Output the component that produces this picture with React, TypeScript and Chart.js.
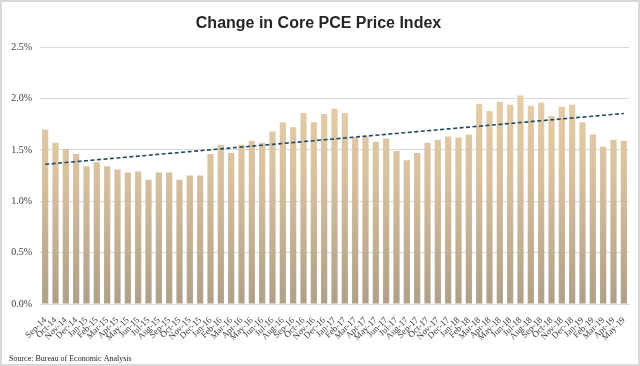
import React, { useEffect, useRef } from "react";
import { Chart, registerables } from "chart.js";

Chart.register(...registerables);

const categories = [
  "Sep-14", "Oct-14", "Nov-14", "Dec-14",
  "Jan-15", "Feb-15", "Mar-15", "Apr-15", "May-15", "Jun-15", "Jul-15", "Aug-15", "Sep-15", "Oct-15", "Nov-15", "Dec-15",
  "Jan-16", "Feb-16", "Mar-16", "Apr-16", "May-16", "Jun-16", "Jul-16", "Aug-16", "Sep-16", "Oct-16", "Nov-16", "Dec-16",
  "Jan-17", "Feb-17", "Mar-17", "Apr-17", "May-17", "Jun-17", "Jul-17", "Aug-17", "Sep-17", "Oct-17", "Nov-17", "Dec-17",
  "Jan-18", "Feb-18", "Mar-18", "Apr-18", "May-18", "Jun-18", "Jul-18", "Aug-18", "Sep-18", "Oct-18", "Nov-18", "Dec-18",
  "Jan-19", "Feb-19", "Mar-19", "Apr-19", "May-19",
];

const corePce = [
  1.70, 1.57, 1.51, 1.46,
  1.34, 1.38, 1.34, 1.31, 1.28, 1.29, 1.21, 1.28, 1.28, 1.21, 1.25, 1.25,
  1.46, 1.55, 1.47, 1.55, 1.59, 1.57, 1.68, 1.77, 1.72, 1.86, 1.77, 1.85,
  1.90, 1.86, 1.62, 1.63, 1.58, 1.61, 1.49, 1.40, 1.47, 1.57, 1.60, 1.63,
  1.62, 1.65, 1.95, 1.88, 1.97, 1.94, 2.03, 1.93, 1.96, 1.83, 1.92, 1.94,
  1.77, 1.65, 1.53, 1.60, 1.59,
];

const yTicks = [0, 0.5, 1.0, 1.5, 2.0, 2.5];

const titleText = "Change in Core PCE Price Index";
const sourceText = "Source: Bureau of Economic Analysis";

// Linear (least squares) trendline of the series, as Excel draws it
function linearTrend(values: number[]): number[] {
  const n = values.length;
  let sx = 0, sy = 0, sxx = 0, sxy = 0;
  values.forEach((v, i) => {
    sx += i; sy += v; sxx += i * i; sxy += i * v;
  });
  const slope = (n * sxy - sx * sy) / (n * sxx - sx * sx);
  const intercept = (sy - slope * sx) / n;
  return values.map((_, i) => intercept + slope * i);
}

const sourcePlugin = {
  id: "sourceText",
  afterDraw(chart: any) {
    const ctx = chart.ctx;
    ctx.save();
    ctx.font = "8px 'Liberation Serif', 'Times New Roman', serif";
    ctx.fillStyle = "#262626";
    ctx.textAlign = "left";
    ctx.textBaseline = "middle";
    ctx.fillText(sourceText, 7, 357);
    ctx.restore();
  },
};

export default function App() {
  const canvasRef = useRef<HTMLCanvasElement | null>(null);

  useEffect(() => {
    const canvas = canvasRef.current;
    if (!canvas) return;
    const trend = linearTrend(corePce);

    const chart = new Chart(canvas, {
      type: "bar",
      data: {
        labels: categories,
        datasets: [
          {
            type: "line",
            label: "Trend",
            data: trend,
            borderColor: "#1F4A66",
            borderWidth: 1.6,
            borderDash: [4, 2.5],
            pointRadius: 0,
            fill: false,
            tension: 0,
            order: 0,
          } as any,
          {
            type: "bar",
            label: "Core PCE",
            data: corePce,
            order: 1,
            barPercentage: 0.6,
            categoryPercentage: 1.0,
            backgroundColor: (c: any) => {
              const area = c.chart.chartArea;
              if (!area) return "#D9C3A0";
              const g = c.chart.ctx.createLinearGradient(0, area.top, 0, area.bottom);
              g.addColorStop(0, "#EED5AE");
              g.addColorStop(0.5, "#D8C19F");
              g.addColorStop(1, "#AFA088");
              return g;
            },
            borderWidth: 0,
          },
        ],
      },
      options: {
        animation: false,
        responsive: false,
        maintainAspectRatio: false,
        layout: { padding: { left: 6, right: 9, top: 0, bottom: 0 } },
        plugins: {
          legend: { display: false },
          tooltip: { enabled: false },
          title: {
            display: true,
            text: titleText,
            color: "#262626",
            font: { family: "'Liberation Sans', Arial, sans-serif", size: 16, weight: "bold" },
            padding: { top: 12, bottom: 14 },
          },
        },
        scales: {
          x: {
            grid: { display: false },
            border: { display: true, color: "#D9D9D9" },
            ticks: {
              autoSkip: false,
              maxRotation: 45,
              minRotation: 45,
              color: "#404040",
              padding: 3,
              font: { family: "'Liberation Serif', 'Times New Roman', serif", size: 9 },
            },
            afterFit: (scale: any) => {
              scale.height = 60;
            },
          },
          y: {
            min: 0,
            max: 2.5,
            afterBuildTicks: (scale: any) => {
              scale.ticks = yTicks.map((v) => ({ value: v }));
            },
            grid: { color: "#D9D9D9", lineWidth: 1, drawTicks: false },
            border: { display: false },
            ticks: {
              color: "#404040",
              padding: 8,
              font: { family: "'Liberation Serif', 'Times New Roman', serif", size: 10 },
              callback: (v: any) => Number(v).toFixed(1) + "%",
            },
            afterFit: (scale: any) => {
              scale.width = 32;
            },
          },
        },
      },
      plugins: [sourcePlugin],
    });

    return () => chart.destroy();
  }, []);

  return (
    <div
      style={{
        position: "fixed",
        left: 0,
        top: 0,
        width: 640,
        height: 366,
        boxSizing: "border-box",
        border: "2px solid #D9D9D9",
        background: "#FFFFFF",
        overflow: "hidden",
      }}
    >
      <canvas ref={canvasRef} width={636} height={362} style={{ display: "block" }} />
    </div>
  );
}
